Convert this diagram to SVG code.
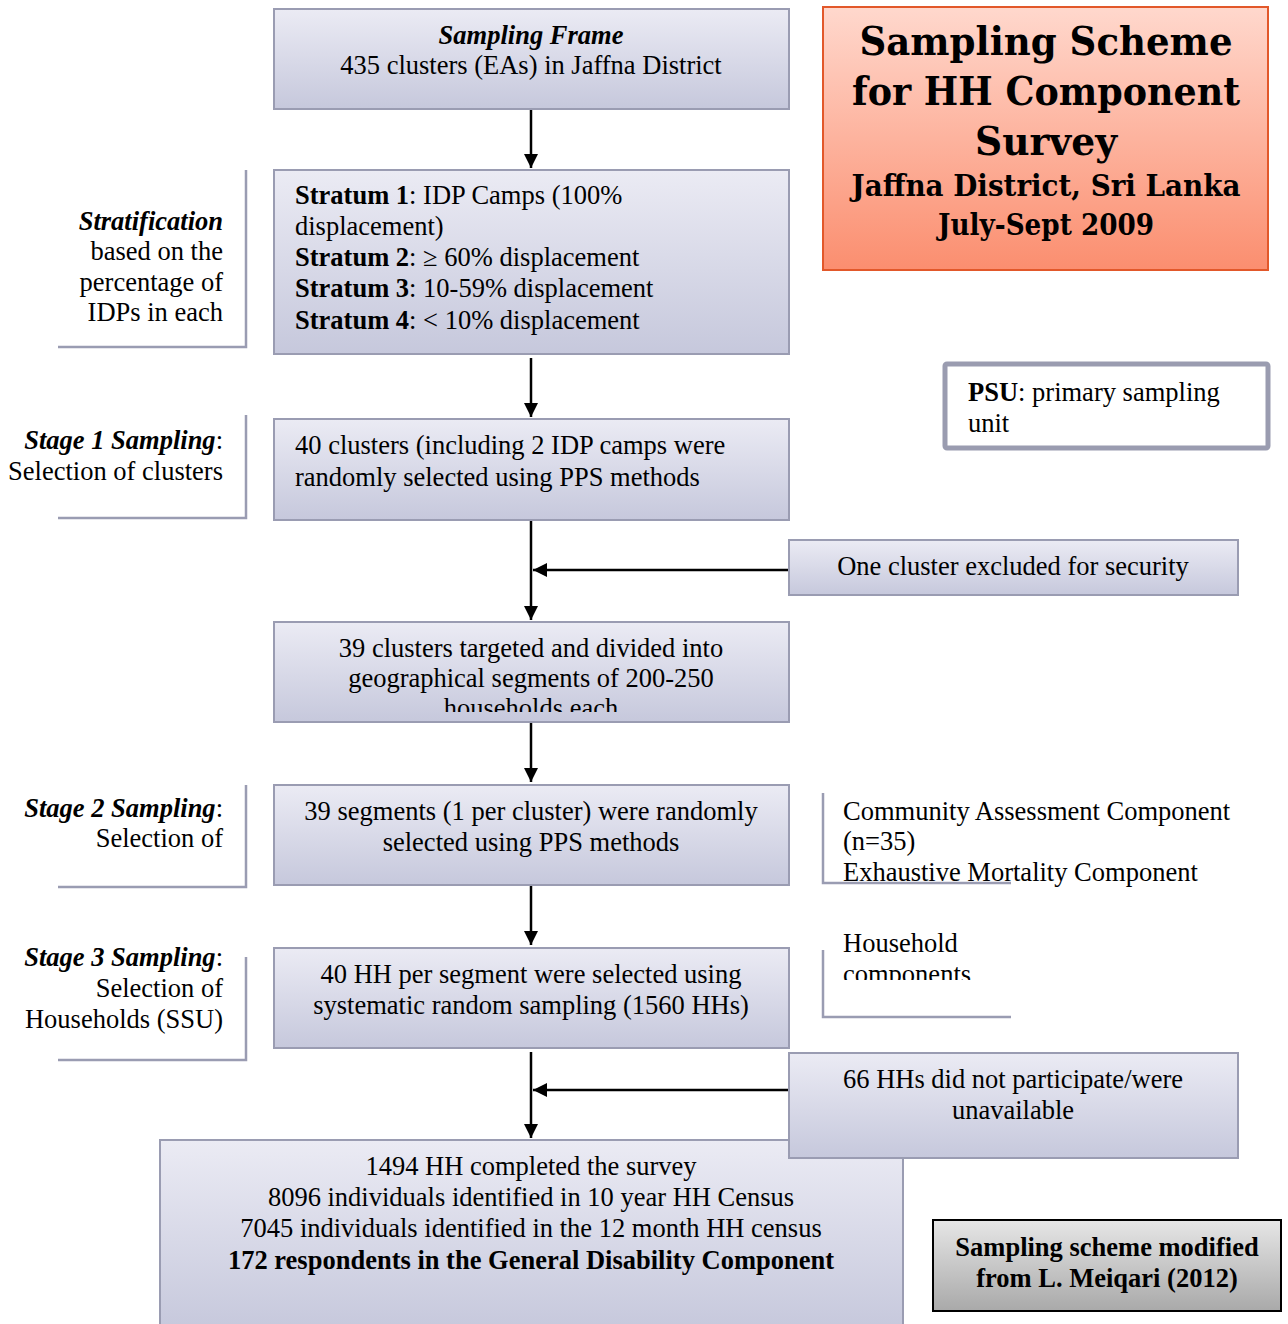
<svg xmlns="http://www.w3.org/2000/svg" width="1288" height="1324" viewBox="0 0 1288 1324">
<defs>
<linearGradient id="gBox" x1="0" y1="0" x2="0" y2="1">
<stop offset="0" stop-color="#ebebf4"/>
<stop offset="1" stop-color="#c6c8dc"/>
</linearGradient>
<linearGradient id="gTitle" x1="0" y1="0" x2="0" y2="1">
<stop offset="0" stop-color="#ffd8cd"/>
<stop offset="1" stop-color="#fb8e6f"/>
</linearGradient>
<linearGradient id="gGray" x1="0" y1="0" x2="0" y2="1">
<stop offset="0" stop-color="#e6e6e6"/>
<stop offset="1" stop-color="#a9a9a9"/>
</linearGradient>
<marker id="arr" viewBox="0 0 10 10" refX="10" refY="5" markerWidth="14" markerHeight="14" markerUnits="userSpaceOnUse" orient="auto">
<path d="M0,0 L10,5 L0,10 z" fill="#000"/>
</marker>
<clipPath id="clip4"><rect x="274" y="622" width="515" height="90"/></clipPath>
<clipPath id="clipHH"><rect x="830" y="920" width="200" height="60"/></clipPath>
<style>
.box{fill:url(#gBox);stroke:#9a9cb2;stroke-width:2}
.t{font-family:"Liberation Serif","Times New Roman",serif;font-size:26.5px;fill:#000}
.c{text-anchor:middle}
.r{text-anchor:end}
.b{font-weight:bold}
.bi{font-weight:bold;font-style:italic}
.br{fill:none;stroke:#9a9cb2;stroke-width:2.5}
.ln{stroke:#000;stroke-width:2.5;fill:none}
.tt{font-family:"DejaVu Serif",serif;font-weight:bold;fill:#000;text-anchor:middle}
</style>
</defs>
<rect width="1288" height="1324" fill="#fff"/>

<g id="connectors">
<line class="ln" x1="531" y1="109" x2="531" y2="168" marker-end="url(#arr)"/>
<line class="ln" x1="531" y1="358" x2="531" y2="417" marker-end="url(#arr)"/>
<line class="ln" x1="531" y1="520" x2="531" y2="620" marker-end="url(#arr)"/>
<line class="ln" x1="789" y1="570" x2="533" y2="570" marker-end="url(#arr)"/>
<line class="ln" x1="531" y1="722" x2="531" y2="782" marker-end="url(#arr)"/>
<line class="ln" x1="531" y1="885" x2="531" y2="945" marker-end="url(#arr)"/>
<line class="ln" x1="531" y1="1052" x2="531" y2="1138" marker-end="url(#arr)"/>
<line class="ln" x1="789" y1="1090" x2="533" y2="1090" marker-end="url(#arr)"/>
</g>

<g id="frame">
<rect class="box" x="274" y="9" width="515" height="100"/>
<text class="t c bi" x="531" y="44">Sampling Frame</text>
<text class="t c" x="531" y="74">435 clusters (EAs) in Jaffna District</text>
</g>

<g id="strata">
<rect class="box" x="274" y="170" width="515" height="184"/>
<text class="t" x="295" y="204"><tspan class="b">Stratum 1</tspan>: IDP Camps (100%</text>
<text class="t" x="295" y="235">displacement)</text>
<text class="t" x="295" y="266"><tspan class="b">Stratum 2</tspan>: ≥ 60% displacement</text>
<text class="t" x="295" y="297"><tspan class="b">Stratum 3</tspan>: 10-59% displacement</text>
<text class="t" x="295" y="329"><tspan class="b">Stratum 4</tspan>: &lt; 10% displacement</text>
</g>

<g id="stage1">
<rect class="box" x="274" y="419" width="515" height="101"/>
<text class="t" x="295" y="454">40 clusters (including 2 IDP camps were</text>
<text class="t" x="295" y="486">randomly selected using PPS methods</text>
</g>

<g id="excluded">
<rect class="box" x="789" y="540" width="449" height="55"/>
<text class="t c" x="1013" y="575">One cluster excluded for security</text>
</g>

<g id="targeted">
<rect class="box" x="274" y="622" width="515" height="100"/>
<g clip-path="url(#clip4)">
<text class="t c" x="531" y="657">39 clusters targeted and divided into</text>
<text class="t c" x="531" y="687">geographical segments of 200-250</text>
<text class="t c" x="531" y="717">households each</text>
</g>
</g>

<g id="stage2">
<rect class="box" x="274" y="785" width="515" height="100"/>
<text class="t c" x="531" y="820">39 segments (1 per cluster) were randomly</text>
<text class="t c" x="531" y="851">selected using PPS methods</text>
</g>

<g id="stage3">
<rect class="box" x="274" y="948" width="515" height="100"/>
<text class="t c" x="531" y="983">40 HH per segment were selected using</text>
<text class="t c" x="531" y="1014">systematic random sampling (1560 HHs)</text>
</g>

<g id="final">
<rect class="box" x="160" y="1140" width="743" height="190"/>
<text class="t c" x="531" y="1175">1494 HH completed the survey</text>
<text class="t c" x="531" y="1206">8096 individuals identified in 10 year HH Census</text>
<text class="t c" x="531" y="1237">7045 individuals identified in the 12 month HH census</text>
<text class="t c b" x="531" y="1269">172 respondents in the General Disability Component</text>
</g>

<g id="nonresp">
<rect class="box" x="789" y="1053" width="449" height="105"/>
<text class="t c" x="1013" y="1088">66 HHs did not participate/were</text>
<text class="t c" x="1013" y="1119">unavailable</text>
</g>

<g id="title">
<rect x="823" y="7" width="445" height="263" fill="url(#gTitle)" stroke="#e2582a" stroke-width="2"/>
<text class="tt" x="1046" y="55" font-size="40" textLength="373" lengthAdjust="spacingAndGlyphs">Sampling Scheme</text>
<text class="tt" x="1046" y="105" font-size="40" textLength="388" lengthAdjust="spacingAndGlyphs">for HH Component</text>
<text class="tt" x="1046" y="155" font-size="40" textLength="142" lengthAdjust="spacingAndGlyphs">Survey</text>
<text class="tt" x="1046" y="196" font-size="30" textLength="389" lengthAdjust="spacingAndGlyphs">Jaffna District, Sri Lanka</text>
<text class="tt" x="1046" y="235" font-size="30" textLength="216" lengthAdjust="spacingAndGlyphs">July-Sept 2009</text>
</g>

<g id="psu">
<rect x="945" y="364" width="323" height="84" rx="2" fill="#fff" stroke="#9a9cb0" stroke-width="5"/>
<text class="t" x="968" y="401"><tspan class="b">PSU</tspan>: primary sampling</text>
<text class="t" x="968" y="432">unit</text>
</g>

<g id="source">
<rect x="933" y="1220" width="348" height="91" fill="url(#gGray)" stroke="#000" stroke-width="2"/>
<text class="t c b" x="1107" y="1256">Sampling scheme modified</text>
<text class="t c b" x="1107" y="1287">from L. Meiqari (2012)</text>
</g>

<g id="lbl-strat">
<path class="br" d="M246,170 V347 H58"/>
<text class="t r bi" x="223" y="230">Stratification</text>
<text class="t r" x="223" y="260">based on the</text>
<text class="t r" x="223" y="291">percentage of</text>
<text class="t r" x="223" y="321">IDPs in each</text>
</g>

<g id="lbl-stage1">
<path class="br" d="M246,415 V518 H58"/>
<text class="t r" x="223" y="449"><tspan class="bi">Stage 1 Sampling</tspan>:</text>
<text class="t r" x="223" y="480">Selection of clusters</text>
</g>

<g id="lbl-stage2">
<path class="br" d="M246,785 V887 H58"/>
<text class="t r" x="223" y="817"><tspan class="bi">Stage 2 Sampling</tspan>:</text>
<text class="t r" x="223" y="847">Selection of</text>
</g>

<g id="lbl-stage3">
<path class="br" d="M246,957 V1060 H58"/>
<text class="t r" x="223" y="966"><tspan class="bi">Stage 3 Sampling</tspan>:</text>
<text class="t r" x="223" y="997">Selection of</text>
<text class="t r" x="223" y="1028">Households (SSU)</text>
</g>

<g id="lbl-community">
<path class="br" d="M823,793 V883 H1011"/>
<text class="t" x="843" y="820">Community Assessment Component</text>
<text class="t" x="843" y="850">(n=35)</text>
<text class="t" x="843" y="881">Exhaustive Mortality Component</text>
</g>

<g id="lbl-household">
<path class="br" d="M823,950 V1017 H1011"/>
<text class="t" x="843" y="952">Household</text>
<g clip-path="url(#clipHH)">
<text class="t" x="843" y="983">components</text>
</g>
</g>
</svg>
